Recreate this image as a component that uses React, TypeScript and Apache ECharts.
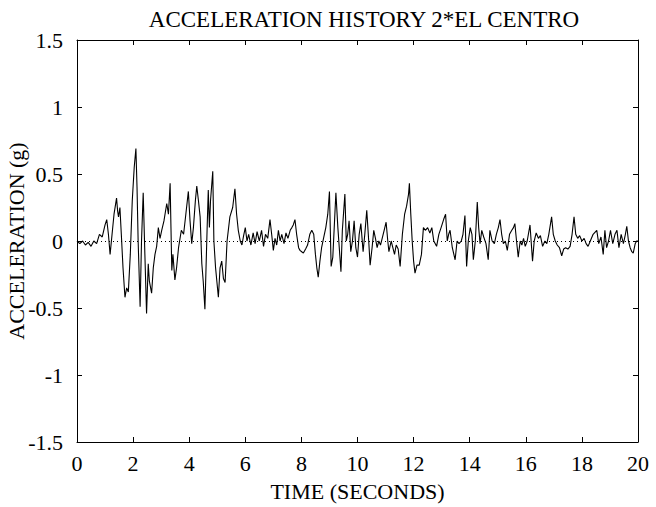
import React, { useEffect, useRef } from "react";
import * as echarts from "echarts";

const times = [
  0, 0.1, 0.2, 0.3, 0.4, 0.5, 0.6, 0.7, 0.8, 0.9, 1.0, 1.06, 1.12, 1.18, 1.25, 1.32, 1.41, 1.45, 1.48, 1.53,
  1.58, 1.64, 1.71, 1.77, 1.83, 1.9, 1.97, 2.04, 2.1, 2.14, 2.18, 2.25, 2.3, 2.36, 2.42, 2.48, 2.54, 2.58, 2.66, 2.72,
  2.78, 2.84, 2.9, 2.96, 3.02, 3.1, 3.2, 3.26, 3.32, 3.35, 3.38, 3.42, 3.49, 3.55, 3.62, 3.72, 3.8, 3.88, 3.97, 4.03,
  4.09, 4.15, 4.22, 4.27, 4.33, 4.39, 4.45, 4.5, 4.56, 4.6, 4.64, 4.68, 4.72, 4.76, 4.84, 4.88, 4.94, 5.04, 5.1, 5.16,
  5.22, 5.28, 5.35, 5.45, 5.55, 5.63, 5.69, 5.75, 5.82, 5.88, 5.94, 6.0, 6.06, 6.12, 6.2, 6.28, 6.35, 6.42, 6.5, 6.58,
  6.65, 6.72, 6.8, 6.88, 6.94, 7.0, 7.06, 7.12, 7.18, 7.24, 7.3, 7.38, 7.45, 7.52, 7.6, 7.66, 7.71, 7.77, 7.83, 7.9,
  7.95, 8.01, 8.07, 8.15, 8.22, 8.3, 8.37, 8.44, 8.5, 8.55, 8.6, 8.66, 8.72, 8.8, 8.87, 8.94, 9.0, 9.06, 9.12, 9.17,
  9.23, 9.3, 9.35, 9.41, 9.46, 9.55, 9.6, 9.65, 9.7, 9.76, 9.82, 9.88, 9.94, 10.0, 10.06, 10.12, 10.2, 10.26, 10.33, 10.4,
  10.45, 10.52, 10.58, 10.64, 10.7, 10.76, 10.82, 10.88, 10.95, 11.02, 11.08, 11.12, 11.2, 11.26, 11.32, 11.38, 11.45, 11.52, 11.6, 11.68,
  11.75, 11.82, 11.85, 11.9, 11.95, 12.0, 12.05, 12.12, 12.2, 12.28, 12.35, 12.42, 12.5, 12.58, 12.65, 12.72, 12.82, 12.9, 12.98, 13.07,
  13.14, 13.2, 13.25, 13.3, 13.38, 13.48, 13.55, 13.62, 13.7, 13.76, 13.83, 13.89, 13.95, 14.02, 14.08, 14.13, 14.2, 14.27, 14.32, 14.37,
  14.43, 14.5, 14.58, 14.66, 14.72, 14.8, 14.88, 14.95, 15.02, 15.08, 15.14, 15.2, 15.27, 15.34, 15.42, 15.5, 15.56, 15.61, 15.67, 15.73,
  15.8, 15.86, 15.92, 15.98, 16.05, 16.15, 16.24, 16.3, 16.37, 16.45, 16.52, 16.6, 16.68, 16.75, 16.82, 16.92, 16.98, 17.05, 17.12, 17.2,
  17.28, 17.35, 17.42, 17.5, 17.58, 17.65, 17.72, 17.78, 17.85, 17.92, 18.0, 18.08, 18.15, 18.22, 18.3, 18.4, 18.53, 18.6, 18.68, 18.76,
  18.82, 18.88, 18.95, 19.02, 19.1, 19.18, 19.25, 19.32, 19.4, 19.48, 19.55, 19.6, 19.66, 19.72, 19.78, 19.83, 19.9, 19.95, 20.0,
];

const accel = [
  0, -0.02, 0.0, -0.03, -0.01, -0.04, 0.0, -0.02, 0.05, 0.03, 0.12, 0.16, 0.05, -0.1, 0.05, 0.2, 0.32, 0.22, 0.18, 0.25,
  0.05, -0.2, -0.42, -0.35, -0.38, -0.1, 0.3, 0.55, 0.69, 0.4, 0.0, -0.49, 0.0, 0.36, -0.1, -0.54, -0.17, -0.3, -0.39, -0.2,
  -0.1, -0.04, 0.1, 0.02, 0.08, 0.15, 0.28, 0.2, 0.43, 0.1, -0.22, -0.1, -0.29, -0.2, -0.05, 0.08, 0.05, 0.2, 0.37, 0.15,
  -0.02, 0.1, 0.3, 0.41, 0.3, 0.18, -0.17, -0.3, -0.51, -0.2, 0.1, 0.38, 0.1, 0.3, 0.52, 0.0, -0.2, -0.42, -0.2, -0.15,
  -0.28, -0.31, 0.0, 0.18, 0.25, 0.39, 0.2, 0.08, 0.0, -0.03, 0.04, 0.1, 0.0, 0.05, -0.03, 0.06, -0.02, 0.07, 0.0, 0.08,
  -0.04, 0.05, 0.02, 0.16, 0.05, -0.07, 0.02, -0.03, 0.08, 0.0, 0.05, -0.02, 0.06, 0.02, 0.08, 0.1, 0.12, 0.16, 0.05, -0.05,
  -0.07, -0.08, -0.09, -0.06, -0.03, 0.05, 0.08, 0.05, -0.1, -0.2, -0.27, -0.15, -0.05, 0.03, 0.1, 0.2, 0.37, -0.19, -0.12, 0.1,
  0.36, 0.1, -0.05, -0.23, 0.08, 0.35, 0.0, 0.05, 0.15, -0.08, 0.0, 0.15, -0.05, -0.12, 0.05, 0.13, -0.08, 0.05, 0.23, 0.0,
  -0.18, -0.05, 0.08, 0.02, -0.05, 0.0, -0.03, 0.02, 0.08, 0.14, 0.0, -0.08, 0.0, -0.05, -0.1, -0.03, -0.06, -0.19, 0.05, 0.2,
  0.26, 0.35, 0.43, 0.2, 0.0, -0.15, -0.24, -0.18, -0.18, -0.1, 0.1, 0.08, 0.1, 0.06, 0.1, 0.0, -0.04, 0.05, 0.1, 0.16,
  0.2, 0.0, 0.05, 0.08, -0.05, -0.14, 0.0, -0.02, 0.0, 0.05, 0.19, -0.19, 0.0, 0.1, 0.05, -0.14, 0.0, 0.29, 0.1, -0.02,
  0.08, 0.03, -0.02, -0.14, 0.08, 0.0, -0.02, 0.05, 0.1, 0.16, 0.05, -0.02, 0.0, -0.07, 0.05, 0.08, 0.1, 0.13, 0.0, -0.12,
  0.0, -0.03, 0.02, -0.04, 0.0, 0.12, -0.15, 0.0, 0.06, 0.02, 0.04, -0.04, 0.0, -0.02, 0.05, 0.18, 0.05, 0.0, -0.03, -0.05,
  -0.11, -0.06, -0.05, -0.06, -0.04, 0.05, 0.18, 0.05, 0.02, 0.04, 0.0, 0.02, -0.02, -0.04, 0.0, 0.05, 0.08, -0.02, 0.03, -0.1,
  0.08, -0.05, 0.0, 0.08, -0.02, 0.05, 0.08, -0.05, 0.05, -0.02, 0.05, 0.11, 0.0, -0.05, -0.08, -0.09, -0.02, 0.0, 0.0,
];

const titleText = "ACCELERATION HISTORY 2*EL CENTRO";
const xName = "TIME (SECONDS)";
const yName = "ACCELERATION (g)";

const FONT = "'Liberation Serif', 'Times New Roman', serif";

export default function App() {
  const ref = useRef<HTMLDivElement>(null);
  useEffect(() => {
    if (!ref.current) return;
    const chart = echarts.init(ref.current, null, { renderer: "svg" });
    const axisLine = { show: true, onZero: false, lineStyle: { color: "#000", width: 1 } };
    const tick = { show: true, inside: true, length: 5, lineStyle: { color: "#000", width: 1 } };
    const label = { color: "#000", fontFamily: FONT, fontSize: 22 };
    chart.setOption({
      animation: false,
      backgroundColor: "#fff",
      title: {
        text: titleText,
        left: 359,
        top: 3,
        textAlign: "center",
        textStyle: { color: "#000", fontFamily: FONT, fontSize: 23, fontWeight: "normal" },
      },
      grid: { left: 77, right: 18, top: 40, bottom: 65, containLabel: false, outerBoundsMode: "none" },
      xAxis: [
        {
          type: "value", min: 0, max: 20, interval: 2, position: "bottom",
          axisLine, axisTick: tick, splitLine: { show: false },
          axisLabel: { ...label, margin: 10 },
          name: xName, nameLocation: "middle", nameGap: 38, nameMoveOverlap: false,
          nameTextStyle: { color: "#000", fontFamily: FONT, fontSize: 22 },
        },
        {
          type: "value", min: 0, max: 20, interval: 2, position: "top",
          axisLine, axisTick: tick, splitLine: { show: false }, axisLabel: { show: false },
        },
      ],
      yAxis: [
        {
          type: "value", min: -1.5, max: 1.5, interval: 0.5, position: "left",
          axisLine, axisTick: tick, splitLine: { show: false },
          axisLabel: { ...label, margin: 14 },
          name: yName, nameLocation: "middle", nameGap: 50, nameMoveOverlap: false,
          nameTextStyle: { color: "#000", fontFamily: FONT, fontSize: 22 },
        },
        {
          type: "value", min: -1.5, max: 1.5, interval: 0.5, position: "right",
          axisLine, axisTick: tick, splitLine: { show: false }, axisLabel: { show: false },
        },
      ],
      series: [
        {
          type: "line",
          data: times.map((t, i) => [t, accel[i]]),
          showSymbol: false,
          symbol: "none",
          lineStyle: { color: "#000", width: 1.1 },
          markLine: {
            silent: true,
            symbol: ["none", "none"],
            label: { show: false },
            lineStyle: { color: "#000", width: 1, type: [1, 3] },
            data: [{ yAxis: 0 }],
          },
        },
      ],
    });
    return () => chart.dispose();
  }, []);
  return <div ref={ref} style={{ position: "fixed", left: 0, top: 0, width: 656, height: 507 }} />;
}
